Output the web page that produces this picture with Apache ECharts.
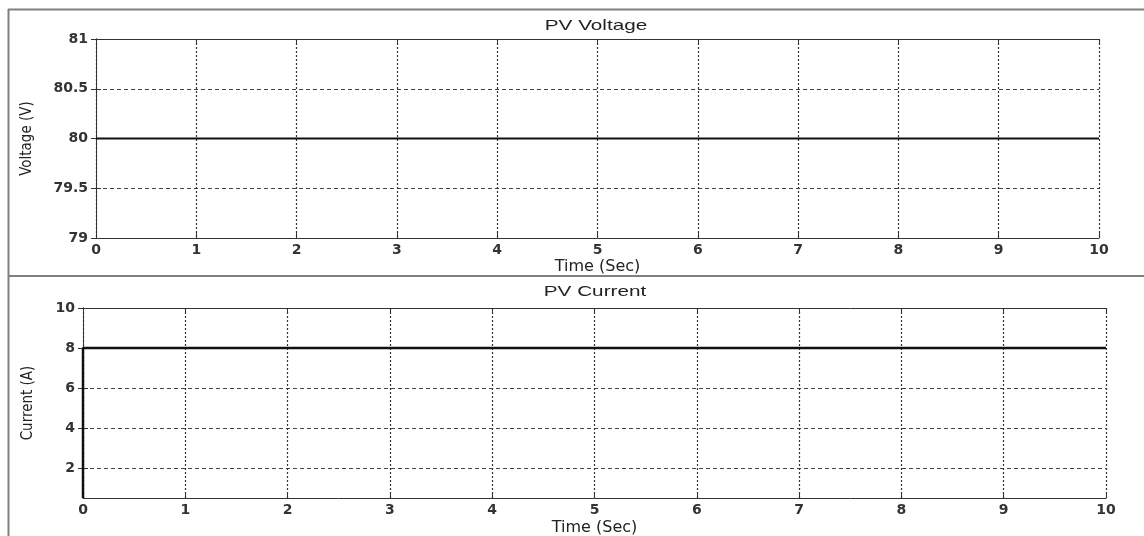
<!DOCTYPE html>
<html style="height: 100%">
<head>
<meta charset="utf-8">
<title>PV Voltage / PV Current</title>
<script src="https://cdn.jsdelivr.net/npm/echarts@6/dist/echarts.min.js"></script>
</head>
<body style="height: 100%; margin: 0; background: #fff">
<div id="container" style="width: 1144px; height: 536px"></div>
<script>
// data
var timeV = [0, 10];
var voltage = [80, 80];
var timeI = [0, 0, 10];
var current = [0.5, 8, 8];
var currentTicks = [2, 4, 6, 8, 10];

var font = '"DejaVu Sans", sans-serif';
var arial = '"Liberation Sans", Arial, sans-serif';
var narrow = '"Liberation Sans Narrow", "DejaVu Sans Condensed", sans-serif';

function pairs(xs, ys) {
  return xs.map(function (x, i) { return [x, ys[i]]; });
}

var gridDash = { color: '#444', width: 1, type: [4, 3] };
var gridDot = { color: '#333', width: 1.2, type: [2, 2] };
var tickLabel = { color: '#333', fontFamily: font, fontSize: 14, fontWeight: 'bold' };

function xMain(gi) {
  return {
    type: 'value', gridIndex: gi, min: 0, max: 10, interval: 1,
    axisLine: { lineStyle: { color: '#333', width: 1 } },
    axisTick: { inside: true, length: 5, lineStyle: { color: '#333' } },
    axisLabel: Object.assign({ margin: gi === 0 ? 5 : 5 }, tickLabel),
    splitLine: { show: true, lineStyle: gridDot },
    name: 'Time (Sec)', nameLocation: 'middle', nameGap: gi === 0 ? 21 : 22,
    nameTextStyle: { color: '#222', fontFamily: font, fontSize: 16 }
  };
}
function xTop(gi) {
  return {
    type: 'value', gridIndex: gi, position: 'top', min: 0, max: 10, interval: 1,
    axisLine: { lineStyle: { color: '#333', width: 1 } },
    axisTick: { inside: true, length: 5, lineStyle: { color: '#333' } },
    axisLabel: { show: false }, splitLine: { show: false }
  };
}

var option = {
  animation: false,
  graphic: [
    { type: 'line', shape: { x1: 8, y1: 9.5, x2: 1144, y2: 9.5 }, style: { stroke: '#808080', lineWidth: 2 } },
    { type: 'line', shape: { x1: 8.5, y1: 9, x2: 8.5, y2: 536 }, style: { stroke: '#808080', lineWidth: 2 } },
    { type: 'line', shape: { x1: 8, y1: 276, x2: 1144, y2: 276 }, style: { stroke: '#808080', lineWidth: 2 } },
    { type: 'text', x: 596, y: 26, scaleX: 1.38, style: { text: 'PV Voltage', font: '15px ' + arial, fill: '#222', textAlign: 'center', textVerticalAlign: 'middle' } },
    { type: 'text', x: 595, y: 292, scaleX: 1.38, style: { text: 'PV Current', font: '15px ' + arial, fill: '#222', textAlign: 'center', textVerticalAlign: 'middle' } }
  ],
  grid: [
    { left: 96, right: 45, top: 39, height: 199, outerBoundsMode: 'none' },
    { left: 83, right: 38, top: 308, height: 190, outerBoundsMode: 'none' }
  ],
  xAxis: [xMain(0), xTop(0), xMain(1), xTop(1)],
  yAxis: [
    {
      type: 'value', gridIndex: 0, min: 79, max: 81, interval: 0.5,
      axisLine: { lineStyle: { color: '#333' } },
      axisTick: { inside: true, length: 5, lineStyle: { color: '#333' } },
      axisLabel: Object.assign({ margin: 8 }, tickLabel),
      splitLine: { show: true, lineStyle: gridDash },
      name: 'Voltage (V)', nameLocation: 'middle', nameGap: 61,
      nameTextStyle: { color: '#222', fontFamily: narrow, fontSize: 15 }
    },
    {
      type: 'value', gridIndex: 0, position: 'right', min: 79, max: 81, interval: 0.5,
      axisLine: { show: true, lineStyle: { color: '#333' } },
      axisTick: { show: true, inside: true, length: 5, lineStyle: { color: '#333' } },
      axisLabel: { show: false }, splitLine: { show: false }
    },
    {
      type: 'value', gridIndex: 1, min: 0.5, max: 10,
      axisLine: { lineStyle: { color: '#333' } },
      axisTick: { inside: true, length: 5, customValues: currentTicks, lineStyle: { color: '#333' } },
      axisLabel: Object.assign({ margin: 8, customValues: currentTicks }, tickLabel),
      splitLine: { show: true, lineStyle: gridDash },
      name: 'Current (A)', nameLocation: 'middle', nameGap: 47,
      nameTextStyle: { color: '#222', fontFamily: narrow, fontSize: 15 }
    },
    {
      type: 'value', gridIndex: 1, position: 'right', min: 0.5, max: 10,
      axisLine: { show: true, lineStyle: { color: '#333' } },
      axisTick: { show: true, inside: true, length: 5, customValues: currentTicks, lineStyle: { color: '#333' } },
      axisLabel: { show: false }, splitLine: { show: false }
    }
  ],
  series: [
    {
      type: 'line', xAxisIndex: 0, yAxisIndex: 0, data: pairs(timeV, voltage),
      symbol: 'none', lineStyle: { color: '#111', width: 2 }
    },
    {
      type: 'line', xAxisIndex: 2, yAxisIndex: 2, data: pairs(timeI, current),
      symbol: 'none', lineStyle: { color: '#111', width: 2.5 }
    }
  ]
};

var chart = echarts.init(document.getElementById('container'));
chart.setOption(option);
</script>
</body>
</html>
